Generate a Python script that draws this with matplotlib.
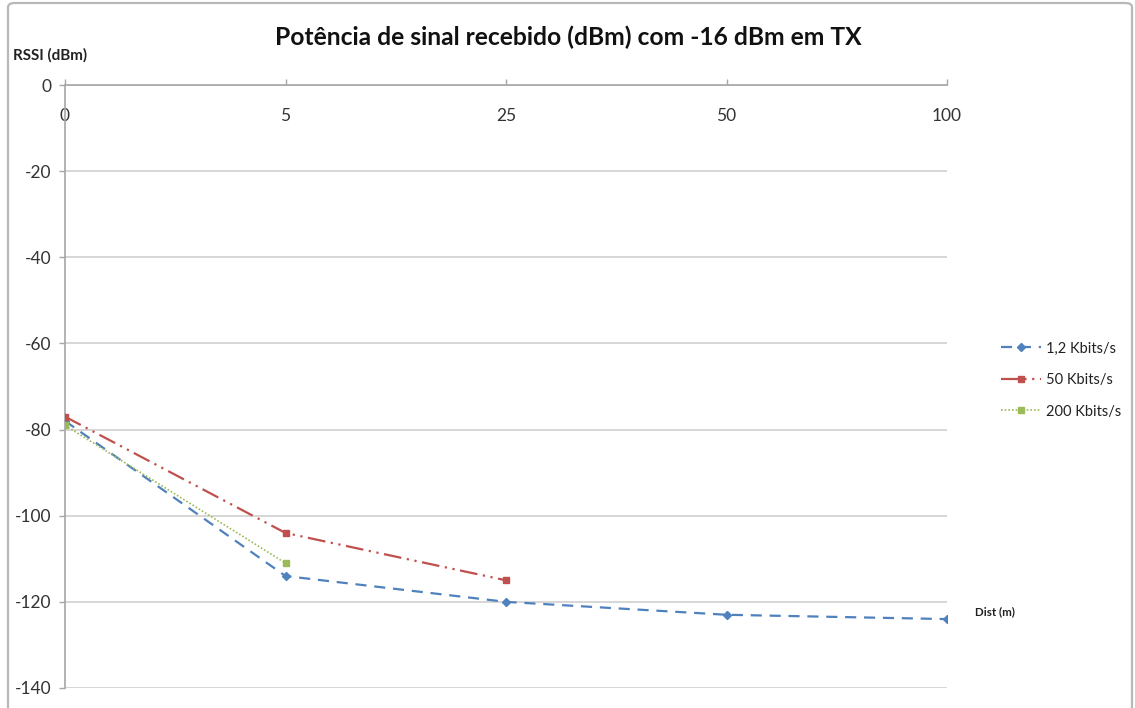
import matplotlib
matplotlib.use("Agg")
import matplotlib.pyplot as plt
from matplotlib.patches import FancyBboxPatch

plt.rcParams['font.family'] = ['Lato', 'DejaVu Sans']

# Distance categories (m) and received power (dBm) per data rate
distances = ["0", "5", "25", "50", "100"]
rssi_1k2 = [-78, -114, -120, -123, -124]
rssi_50k = [-77, -104, -115]
rssi_200k = [-79, -111]
series_labels = ["1,2 Kbits/s", "50 Kbits/s", "200 Kbits/s"]
yticks = [0, -20, -40, -60, -80, -100, -120, -140]

W, H = 1135, 708
fig = plt.figure(figsize=(W / 100, H / 100), dpi=100)
fig.patch.set_facecolor("white")

# chart-area frame
frame = FancyBboxPatch((8 / W, -10 / H), (1124 / W), (H - 3 + 10) / H,
                       boxstyle="round,pad=0,rounding_size=0.006",
                       transform=fig.transFigure, fill=False,
                       edgecolor="#b8b8b8", linewidth=1.6)
fig.patches.append(frame)

ax = fig.add_axes([65 / W, 1 - 688 / H, (947 - 65) / W, (688 - 85) / H])
x = list(range(len(distances)))

ax.plot(x[:len(rssi_1k2)], rssi_1k2, color="#4F81BD", linewidth=1.6,
        linestyle=(0, (5, 3.5)), marker="D", markersize=4.5, label=series_labels[0], zorder=3)
ax.plot(x[:len(rssi_50k)], rssi_50k, color="#C0504D", linewidth=1.6,
        linestyle=(0, (8, 2.5, 1, 2.5, 1, 2.5)), marker="s", markersize=5, label=series_labels[1], zorder=4)
ax.plot(x[:len(rssi_200k)], rssi_200k, color="#9BBB59", linewidth=1.2,
        linestyle=(0, (1, 1.2)), marker="s", markersize=5, label=series_labels[2], zorder=5)

ax.set_xlim(0, len(distances) - 1)
ax.set_ylim(-140, 0)
ax.set_yticks(yticks)
ax.set_yticklabels([str(v) for v in yticks])
ax.set_xticks(x)
ax.set_xticklabels(distances)

ax.grid(axis="y", color="#cfcfcf", linewidth=1.2)
ax.set_axisbelow(True)
for s in ("right", "bottom"):
    ax.spines[s].set_visible(False)
for s in ("left", "top"):
    ax.spines[s].set_color("#a6a6a6")
    ax.spines[s].set_linewidth(1.2)

ax.tick_params(axis="y", direction="out", length=4, width=1, color="#a6a6a6",
               pad=6, labelsize=12.5, labelcolor="#333333")
ax.tick_params(axis="x", bottom=False, labelbottom=False, top=True, labeltop=True,
               direction="out", length=4, width=1, color="#a6a6a6",
               pad=-32, labelsize=12.5, labelcolor="#333333")

fig.text(568 / W, 1 - 37 / H, "Potência de sinal recebido (dBm) com -16 dBm em TX",
         ha="center", va="center", fontsize=17.7, fontweight="bold", color="#111111")
fig.text(13 / W, 1 - 55 / H, "RSSI (dBm)", ha="left", va="center",
         fontsize=11, fontweight="bold", color="#222222")
fig.text(975 / W, 1 - 612 / H, "Dist (m)", ha="left", va="center",
         fontsize=8.3, fontweight="bold", color="#222222")

fig.legend(loc="center left", bbox_to_anchor=(988 / W, 1 - 380 / H), frameon=False,
           fontsize=10.5, handlelength=2.7, labelspacing=1.2, handletextpad=0.35,
           labelcolor="#222222")

fig.savefig("out.png", dpi=100)
